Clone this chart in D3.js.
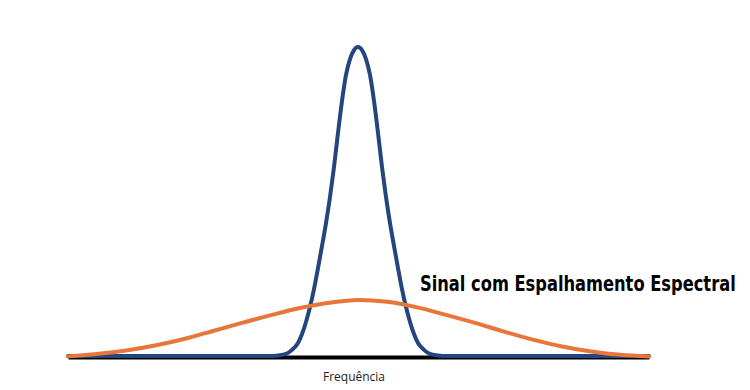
<!DOCTYPE html>
<html>
<head>
<meta charset="utf-8">
<script src="https://cdn.jsdelivr.net/npm/d3@7"></script>
<style>
  html, body { margin: 0; padding: 0; background: #fff; }
  svg { display: block; }
</style>
</head>
<body>
<div id="chart"></div>
<script>
// Frequency offset from centre (arbitrary units) and relative amplitude (%)
const blueFreq = [-29, -8.8, -8.0, -7.2, -6.6, -6.0, -5.6, -5.2, -4.8, -4.4, -4.0, -3.6, -3.2, -2.8, -2.4, -2.0, -1.6, -1.2, -0.8, -0.4, 0, 0.4, 0.8, 1.2, 1.6, 2.0, 2.4, 2.8, 3.2, 3.6, 4.0, 4.4, 4.8, 5.2, 5.6, 6.0, 6.6, 7.2, 8.0, 8.8, 29.1];
const blueAmp  = [0.3, 0.3, 0.5, 1.0, 2.3, 4.5, 7.4, 11.3, 16.1, 21.9, 28.7, 35.8, 43.2, 51.6, 61.3, 72.3, 82.6, 91.0, 96.1, 99.0, 100, 99.0, 96.1, 91.0, 82.6, 72.3, 61.3, 51.6, 43.2, 35.8, 28.7, 21.9, 16.1, 11.3, 7.4, 4.5, 2.3, 1.0, 0.5, 0.3, 0.3];
const orangeFreq = [-29, -26.1, -23.2, -20.3, -17.4, -14.5, -11.6, -8.7, -5.8, -2.9, 0, 2.9, 5.8, 8.8, 11.7, 14.6, 17.5, 20.4, 23.3, 26.2, 29.1];
const orangeAmp  = [0.2, 1.0, 2.1, 3.7, 5.8, 8.4, 11.0, 13.5, 15.8, 17.5, 18.4, 17.8, 16.1, 13.6, 11.0, 8.2, 5.6, 3.4, 1.8, 0.7, 0.2];
const xLabel = "Frequência";
const seriesLabel = "Sinal com Espalhamento Espectral";

const W = 750, H = 390;
const svg = d3.select("#chart").append("svg").attr("width", W).attr("height", H);

const x = d3.scaleLinear().domain([-29, 29.1]).range([68, 649]);
const y = d3.scaleLinear().domain([0, 100]).range([357, 47]);

const blue = blueFreq.map((f, i) => ({f, a: blueAmp[i]}));
const orange = orangeFreq.map((f, i) => ({f, a: orangeAmp[i]}));

const line = d3.line().x(d => x(d.f)).y(d => y(d.a)).curve(d3.curveMonotoneX);

// axis
const axis = svg.append("g").attr("transform", "translate(0,357)")
  .call(d3.axisBottom(x).tickValues([]).tickSizeOuter(0));
axis.select(".domain").attr("stroke", "#000").attr("stroke-width", 4);

svg.append("path").datum(blue).attr("d", line)
  .attr("fill", "none").attr("stroke", "#24457e").attr("stroke-width", 4)
  .attr("stroke-linejoin", "round").attr("stroke-linecap", "round");

svg.append("path").datum(orange).attr("d", line)
  .attr("fill", "none").attr("stroke", "#e8763a").attr("stroke-width", 4)
  .attr("stroke-linejoin", "round").attr("stroke-linecap", "round");

svg.append("text").attr("x", 354).attr("y", 381).attr("text-anchor", "middle")
  .attr("font-family", "'Open Sans', sans-serif").attr("font-size", 12).attr("fill", "#222")
  .text(xLabel);

const lbl = svg.append("text").attr("x", 0).attr("y", 0)
  .attr("font-family", "'DejaVu Sans Condensed', 'DejaVu Sans', sans-serif")
  .attr("font-weight", "bold").attr("font-size", 22)
  .attr("fill", "#000")
  .text(seriesLabel);
const natW = lbl.node().getComputedTextLength();
lbl.attr("transform", `translate(420,291) scale(${316 / natW},1)`);
</script>
</body>
</html>
